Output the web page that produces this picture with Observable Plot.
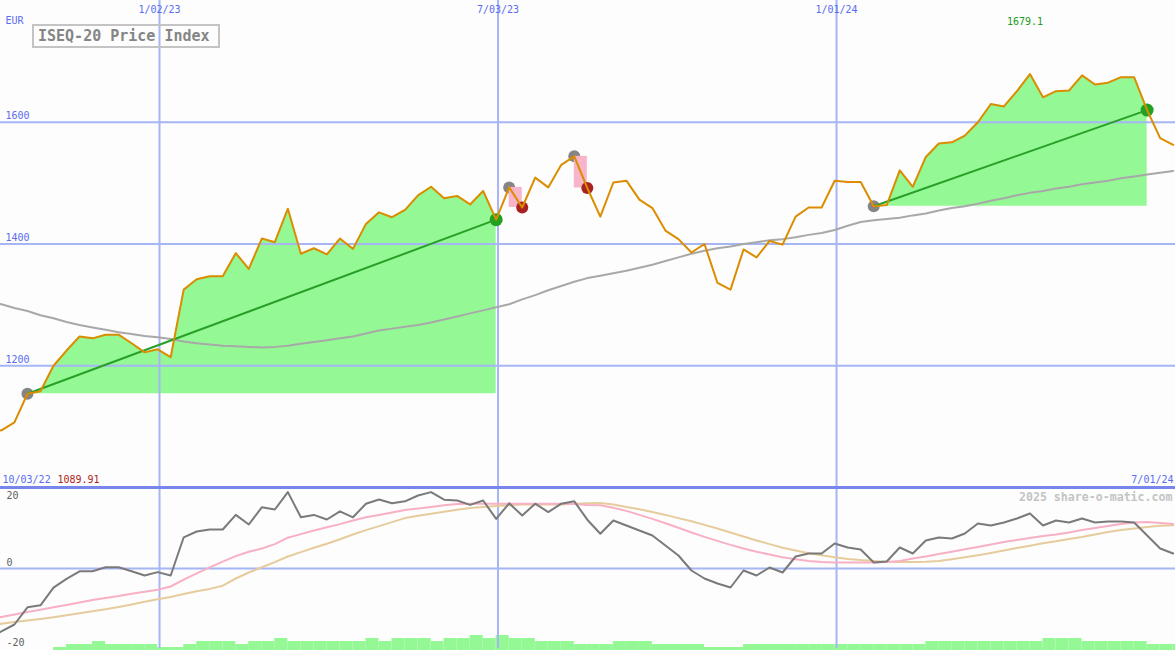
<!DOCTYPE html>
<html><head><meta charset="utf-8">
<script src="https://cdn.jsdelivr.net/npm/d3@7"></script>
<script src="https://cdn.jsdelivr.net/npm/@observablehq/plot@0.6"></script>
<style>
html,body{margin:0;padding:0;background:#fcfdfc;}
#wrap{position:relative;width:1175px;height:650px;overflow:hidden;background:#fcfdfc;}
#chart svg{display:block;}
#title{position:absolute;left:32px;top:24px;width:180px;height:20px;border:2px solid #c4c4c4;font:bold 15px "DejaVu Sans Mono",monospace;color:#858585;line-height:21px;padding-left:4px;box-sizing:content-box;white-space:pre;}
</style></head>
<body><div id="wrap"><div id="chart"></div><div id="title">ISEQ-20 Price Index</div></div>
<script>
// ---- data (weekly) ----
const price = [1089.91,1094,1107,1154,1158,1200,1225,1248,1245,1251,
 1251,1237,1222,1227,1214,1325,1342,1347,1347,1385,
 1359,1409,1403,1458,1384,1393,1383,1409,1392,1433,
 1452,1444,1456,1480,1494,1475,1479,1465,1487,1440,
 1493,1460,1509,1493,1530,1544,1492,1445,1501,1504,
 1473,1459,1422,1408,1386,1400,1336,1325,1391,1378,
 1405,1399,1445,1460,1460,1504,1502,1502,1462,1464,
 1521,1494,1543,1565,1567,1578,1600,1630,1626,1651,
 1679.1,1641,1651,1652,1677,1662,1665,1674,1674,1620,
 1574,1563];
const movingAvg = [1306,1301,1295,1290,1283,1278,1272,1267,1263,1259,
 1255,1252,1249,1247,1244,1240,1237,1235,1233,1232,
 1231,1230,1231,1233,1236,1239,1242,1245,1248,1253,
 1258,1261,1264,1267,1271,1276,1281,1286,1291,1296,
 1301,1309,1316,1324,1331,1338,1344,1348,1352,1356,
 1361,1366,1372,1378,1384,1389,1393,1396,1400,1403,
 1406,1408,1411,1415,1418,1423,1430,1436,1439,1441,
 1443,1447,1450,1455,1459,1462,1466,1471,1475,1480,
 1484,1487,1491,1494,1498,1501,1504,1508,1511,1514,
 1517,1520];
const momentum = [-17.5,-15.7,-14,-9.7,-9.2,-4.8,-2.6,-0.7,-0.7,0.3,
 0.3,-0.7,-1.75,-0.9,-1.75,7.8,9.25,9.75,9.75,13.4,
 11,15.3,14.75,19.1,12.8,13.4,12.25,14.3,12.8,16.2,
 17.25,16.3,16.8,18.25,19.1,17.2,17,15.9,17,12.4,
 16.3,13.25,16.2,14.1,16.2,16.8,12.2,8.7,12,10.75,
 9.5,8.25,5.75,3.25,-0.5,-2.5,-3.75,-4.75,-0.5,-1.75,
 0.25,-1,3,3.75,3.75,6.25,5.25,4.75,1.5,1.75,
 5.25,3.75,7,7.75,7.5,8.75,11.25,10.75,11.5,12.5,
 13.75,10.75,12,11.5,12.5,11.5,11.75,11.75,11.5,8.25,
 5,3.75];
const signalPink = [-12.6,-12.1,-11.5,-10.9,-10.3,-9.7,-9.1,-8.5,-7.9,-7.4,
 -6.9,-6.3,-5.8,-5.3,-4.5,-2.8,-1.2,0.3,1.7,3.1,
 4.2,5.0,6.1,7.7,8.6,9.5,10.3,11.1,12.0,12.8,
 13.4,14.0,14.6,15.0,15.4,15.8,16.1,16.2,16.2,16.2,
 16.2,16.2,16.2,16.2,16.2,16.1,15.9,15.8,15.2,14.4,
 13.4,12.4,11.3,10.2,9.0,7.9,6.9,5.9,5.0,4.2,
 3.5,2.8,2.3,1.9,1.6,1.5,1.5,1.5,1.5,1.6,
 1.9,2.5,3.0,3.6,4.2,4.8,5.4,6.0,6.6,7.1,
 7.6,8.1,8.5,9.0,9.6,10.1,10.6,11.1,11.5,11.6,
 11.4,11.1];
const signalTan = [-14.2,-13.8,-13.4,-13.0,-12.6,-12.2,-11.7,-11.2,-10.7,-10.2,
 -9.6,-9.0,-8.3,-7.7,-7.1,-6.4,-5.7,-5.1,-4.3,-2.5,
 -1.0,0.3,1.6,3.0,4.1,5.2,6.2,7.3,8.5,9.6,
 10.6,11.6,12.6,13.2,13.7,14.2,14.7,15.1,15.4,15.6,
 15.8,16.0,16.0,16.0,16.0,16.2,16.3,16.4,16.0,15.4,
 14.8,14.1,13.4,12.6,11.8,10.9,10.0,9.0,8.0,7.0,
 6.1,5.2,4.5,3.8,3.3,2.8,2.4,2.1,1.9,1.7,
 1.6,1.6,1.7,1.9,2.3,2.8,3.3,3.9,4.5,5.1,
 5.7,6.3,6.8,7.4,7.9,8.5,9.1,9.6,10.0,10.4,
 10.7,10.8];
const volume = [0,0,0,0,0,1,2,2,3,2,
 2,2,2,1,1,2,3,3,3,2,
 3,3,4,3,3,3,3,3,3,4,
 3,4,4,4,3,4,4,5,4,5,
 4,4,3,3,3,2,2,2,3,3,
 3,2,2,2,2,1,1,1,2,2,
 2,2,2,2,2,2,2,2,2,2,
 2,2,3,3,3,3,3,3,3,3,
 3,4,4,4,3,3,3,3,3,2,
 2,2];
// trades: start week index, end week index
const winTrades = [{s:3, e:39}, {s:68, e:89}];
const lossTrades = [{s:40, e:41}, {s:45, e:46}];
const tickLabelsDates = ["2023-01-02","2023-07-03","2024-01-01"];
const yTicks = [1200, 1400, 1600];
const lowerTicks = [20, 0, -20];
const startLabel = "10/03/22", startValue = "1089.91", endLabel = "7/01/24";
const titleText = "ISEQ-20 Price Index";
const credit = "2025 share-o-matic.com";
const unitLabel = "EUR";

// ---- derived ----
const DAY = 864e5;
const t0 = Date.UTC(2022, 9, 2);
const dates = price.map((_, i) => new Date(t0 + i * 7 * DAY));
const rows = price.map((p, i) => ({date: dates[i], next: new Date(t0 + (i + 1) * 7 * DAY), price: p, ma: movingAvg[i], mom: momentum[i], pink: signalPink[i], tan: signalTan[i], vol: volume[i]}));
const xDomain = [new Date(Date.UTC(2022, 9, 8, 12)), new Date(Date.UTC(2024, 6, 1, 6))];
const tickDates = tickLabelsDates.map(d => new Date(d + "T00:00:00Z"));
const fmt = d3.utcFormat("%-m/%d/%y");
const winArea = winTrades.flatMap((t, ti) => d3.range(t.s, t.e + 1).map(k => ({date: dates[k], y1: price[t.s], y2: price[k], z: ti})));
const maxIdx = d3.maxIndex(price);

const BLUE = "#5b6cf0", GRID = "#a6b5f4", FONT = "DejaVu Sans Mono, monospace";
const T = {fontSize: 10, lineAnchor: "middle"};

const upper = Plot.plot({
  width: 1175, height: 487, margin: 0,
  style: {background: "transparent", fontFamily: FONT, fontSize: "10px"},
  x: {type: "utc", domain: xDomain, axis: null},
  y: {domain: [1000, 1800], axis: null},
  marks: [
    Plot.areaY(winArea, {x: "date", y1: "y1", y2: "y2", z: "z", fill: "#94f894", fillOpacity: 1}),
    Plot.ruleX(tickDates, {stroke: GRID, strokeWidth: 2}),
    Plot.ruleY(yTicks, {stroke: GRID, strokeWidth: 2}),
    Plot.ruleY([1000], {stroke: "#7886ec", strokeWidth: 3}),
    Plot.line(rows, {x: "date", y: "ma", stroke: "#a8a8a8", strokeWidth: 2}),
    Plot.dot([...winTrades, ...lossTrades], {x: t => dates[t.s], y: t => price[t.s], r: 6, fill: "#858585", stroke: "none"}),
    Plot.rect(lossTrades, {x1: t => dates[t.s], x2: t => dates[t.e], y1: t => price[t.e], y2: t => price[t.s], fill: "#f8b4c8"}),
    Plot.dot(lossTrades, {x: t => dates[t.e], y: t => price[t.e], r: 6, fill: "#a82222", stroke: "none"}),
    Plot.dot(winTrades, {x: t => dates[t.e], y: t => price[t.e], r: 6.5, fill: "#22a022", stroke: "none"}),
    Plot.link(winTrades, {x1: t => dates[t.s], y1: t => price[t.s], x2: t => dates[t.e], y2: t => price[t.e], stroke: "#28a028", strokeWidth: 2}),
    Plot.line(rows, {x: "date", y: "price", stroke: "#dc8c00", strokeWidth: 2}),
    Plot.text(tickDates, {...T, x: d => d, text: d => fmt(d), frameAnchor: "top", dy: 9, fill: BLUE}),
    Plot.text(yTicks, {...T, y: d => d, text: d => String(d), frameAnchor: "left", dx: 5, dy: -6, textAnchor: "start", fill: BLUE}),
    Plot.text([unitLabel], {...T, text: d => d, frameAnchor: "top-left", dx: 5, dy: 20, fill: BLUE}),
    Plot.text([maxIdx], {...T, x: i => dates[i], text: i => String(price[i]), frameAnchor: "top", dy: 21, dx: -5, fill: "#229a22"}),
    Plot.text([startLabel], {...T, text: d => d, frameAnchor: "bottom-left", dx: 2, dy: -8, fill: BLUE}),
    Plot.text([startValue], {...T, text: d => d, frameAnchor: "bottom-left", dx: 57, dy: -8, fill: "#b02222"}),
    Plot.text([endLabel], {...T, text: d => d, frameAnchor: "bottom-right", dx: -2, dy: -8, fill: BLUE})
  ]
});

const VOL_BASE = -20.5, VOL_UNIT = 0.75;
const lower = Plot.plot({
  width: 1175, height: 163, marginTop: 1, marginBottom: 2, marginLeft: 0, marginRight: 0,
  style: {background: "transparent", fontFamily: FONT, fontSize: "10px"},
  x: {type: "utc", domain: xDomain, axis: null},
  y: {domain: [-20, 20], axis: null},
  marks: [
    Plot.rect(rows.filter(r => r.vol > 0), {x1: "date", x2: "next", y1: () => VOL_BASE, y2: r => VOL_BASE + r.vol * VOL_UNIT, fill: "#94f894"}),
    Plot.ruleX(tickDates, {stroke: GRID, strokeWidth: 2}),
    Plot.ruleY([0], {stroke: GRID, strokeWidth: 2}),
    Plot.ruleY([20], {stroke: "#7886ec", strokeWidth: 3, dy: -1}),
    Plot.line(rows, {x: "date", y: "tan", stroke: "#e6cc9c", strokeWidth: 2}),
    Plot.line(rows, {x: "date", y: "pink", stroke: "#f8b0c4", strokeWidth: 2}),
    Plot.line(rows, {x: "date", y: "mom", stroke: "#7a7a7a", strokeWidth: 2}),
    Plot.text(lowerTicks.filter(d => d === 20), {...T, y: d => d, text: d => String(d), frameAnchor: "left", dx: 6, dy: 7, textAnchor: "start", fill: "#606060"}),
    Plot.text(lowerTicks.filter(d => d !== 20), {...T, y: d => d, text: d => String(d), frameAnchor: "left", dx: 6, dy: -6, textAnchor: "start", fill: "#606060"}),
    Plot.text([credit], {text: d => d, frameAnchor: "top-right", lineAnchor: "middle", dx: -3, dy: 9, fill: "#c4c4c4", fontWeight: "bold", fontSize: 11.6})
  ]
});

document.getElementById("chart").append(upper, lower);
document.getElementById("title").textContent = titleText;
</script></body></html>
